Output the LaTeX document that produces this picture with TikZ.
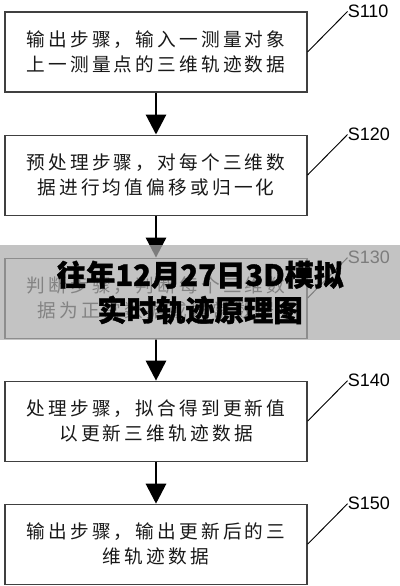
\documentclass[tikz,border=0pt]{standalone}
\usepackage{fontspec}
\setsansfont{Liberation Sans}
\newfontfamily\cjk{Noto Sans CJK SC}[LetterSpace=17]
\newfontfamily\cjkbf{Noto Sans CJK SC}[BoldFeatures={FakeBold=1.3}]
\usetikzlibrary{arrows.meta,positioning}

\begin{document}
\begin{tikzpicture}[
    node distance=31.5pt,
    box/.style={rectangle, draw=black!75, line width=0.8pt, fill=white, text=black!90,
                align=center, minimum width=226.5pt, minimum height=60pt, inner sep=0pt,
                font=\cjk\fontsize{14pt}{18.75pt}\selectfont},
    lab/.style={anchor=west, inner sep=0pt, font=\sffamily\fontsize{13.5pt}{14pt}\selectfont},
    lead/.style={line width=0.7pt},
    flow/.style={line width=2.2pt, -{Triangle[width=15pt, length=15pt]}},
    band/.style={rectangle, fill={rgb,255:red,172;green,172;blue,172}, fill opacity=0.72,
                 text opacity=1, minimum width=300pt, minimum height=71.25pt, inner sep=0pt,
                 align=center, font=\cjkbf\bfseries\fontsize{22pt}{26.5pt}\selectfont}
]
\useasboundingbox (0,0) rectangle (300pt,-439.5pt);
\node[box] (s1) at (117pt,-39pt) {输出步骤，输入一测量对象\\上一测量点的三维轨迹数据};
\node[box, below=of s1] (s2) {预处理步骤，对每个三维数\\据进行均值偏移或归一化};
\node[box, below=of s2] (s3) {判断步骤，判断每个三维数\\据为正常数据或异常数据};
\node[box, below=of s3] (s4) {处理步骤，拟合得到更新值\\以更新三维轨迹数据};
\node[box, below=of s4] (s5) {输出步骤，输出更新后的三\\维轨迹数据};
\draw[flow] (s1)--(s2); \draw[flow] (s2)--(s3); \draw[flow] (s3)--(s4);
\draw[flow] (s4)--(s5);
% step labels
\node[lab] (l1) at ([xshift=30pt]s1.north east) {S110};
\node[lab] (l2) at ([xshift=30pt]s2.north east) {S120};
\node[lab] (l3) at ([xshift=30pt]s3.north east) {S130};
\node[lab] (l4) at ([xshift=30pt]s4.north east) {S140};
\node[lab] (l5) at ([xshift=30pt]s5.north east) {S150};
\draw[lead] (s1.east)--(l1.west); \draw[lead] (s2.east)--(l2.west);
\draw[lead] (s3.east)--(l3.west); \draw[lead] (s4.east)--(l4.west);
\draw[lead] (s5.east)--(l5.west);
% title band
\node[band] (title) at (150pt,-219.375pt) {往年12月27日3D模拟\\实时轨迹原理图};
\end{tikzpicture}
\end{document}
